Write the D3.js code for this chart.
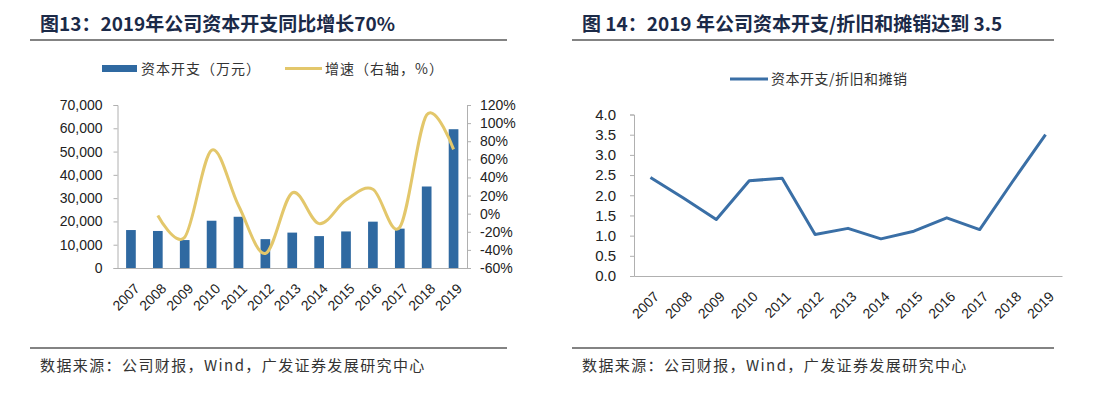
<!DOCTYPE html>
<html>
<head>
<meta charset="utf-8">
<script src="https://cdn.jsdelivr.net/npm/d3@7"></script>
<style>
  html, body { margin: 0; padding: 0; background: #fff; }
  svg text { font-family: "Liberation Sans", Arial, "Noto Sans CJK SC", sans-serif; }
  .cjk { font-family: "Noto Sans CJK SC", sans-serif; }
</style>
</head>
<body>
<div id="chart"></div>
<script>
// data
const years = ['2007','2008','2009','2010','2011','2012','2013','2014','2015','2016','2017','2018','2019'];
const capex = [16300, 15900, 12000, 20300, 22000, 12400, 15200, 13700, 15700, 19900, 16900, 35000, 59600];
const growth = [null, -2, -26, 70, 9, -44, 23, -11, 15, 27, -15, 109, 71];
const capexToDa = [2.44, 1.93, 1.40, 2.36, 2.42, 1.03, 1.18, 0.92, 1.11, 1.44, 1.15, 2.34, 3.50];
const leftTicks = [0, 10000, 20000, 30000, 40000, 50000, 60000, 70000];
const pctTicks = [-60, -40, -20, 0, 20, 40, 60, 80, 100, 120];
const ratioTicks = [0, 0.5, 1, 1.5, 2, 2.5, 3, 3.5, 4];

const W = 1114, H = 396;
const titleColor = '#1b2a48', ruleColor = '#5a5a5a', axisColor = '#b0b0b0', textColor = '#222';
const barColor = '#2f69a1', growthColor = '#e3c76b', ratioColor = '#3a6fa6';

const svg = d3.select('#chart').append('svg')
  .attr('width', W).attr('height', H);

// 标题 + 横线 + 来源
function frame(x0, x1, tx, title) {
  svg.append('text').attr('class', 'cjk')
    .attr('x', tx).attr('y', 31)
    .attr('font-size', 19).attr('font-weight', 'bold')
    .attr('fill', titleColor).text(title);
  svg.append('line').attr('x1', x0).attr('x2', x1).attr('y1', 40).attr('y2', 40)
    .attr('stroke', ruleColor).attr('stroke-width', 1.5);
  svg.append('line').attr('x1', x0).attr('x2', x1).attr('y1', 348).attr('y2', 348)
    .attr('stroke', ruleColor).attr('stroke-width', 1.5);
  svg.append('text').attr('class', 'cjk')
    .attr('x', tx).attr('y', 371)
    .attr('font-size', 15).attr('letter-spacing', 1.4)
    .attr('fill', '#333').text('数据来源：公司财报，Wind，广发证券发展研究中心');
}
frame(30, 507, 40, '图13：2019年公司资本开支同比增长70%');
frame(572, 1054, 582, '图 14：2019 年公司资本开支/折旧和摊销达到 3.5');

function styleAxis(g) {
  g.select('.domain').attr('stroke', axisColor);
  g.selectAll('.tick line').attr('stroke', axisColor);
  g.selectAll('.tick text').attr('fill', textColor);
}

// 斜45度的年份标签，右上角对齐刻度
function rotateLabels(g, size) {
  g.selectAll('.tick text')
    .attr('font-size', size)
    .attr('text-anchor', 'end')
    .attr('x', 0).attr('y', 22)
    .attr('dx', -8.5).attr('dy', 0)
    .attr('transform', 'rotate(-45)');
}

// ---------- 左图：资本开支 + 增速 ----------
{
  const x = d3.scaleBand().domain(years).range([117.5, 467]);
  const y = d3.scaleLinear().domain([0, 70000]).range([268, 105]);
  const y2 = d3.scaleLinear().domain([-60, 120]).range([268, 105]);
  const g = svg.append('g');

  const bw = x.bandwidth() * 0.36;
  g.append('g').selectAll('rect').data(years).join('rect')
    .attr('x', (d) => x(d) + x.bandwidth() / 2 - bw / 2)
    .attr('y', (d, i) => y(capex[i]))
    .attr('width', bw)
    .attr('height', (d, i) => y(0) - y(capex[i]))
    .attr('fill', barColor);

  const line = d3.line()
    .defined((d) => d.v !== null)
    .x((d) => x(d.k) + x.bandwidth() / 2)
    .y((d) => y2(d.v))
    .curve(d3.curveCardinal.tension(0));
  g.append('path')
    .datum(years.map((k, i) => ({k, v: growth[i]})).filter((d) => d.v !== null))
    .attr('d', line)
    .attr('fill', 'none').attr('stroke', growthColor).attr('stroke-width', 3);

  const ax = g.append('g').attr('transform', 'translate(0,268)')
    .call(d3.axisBottom(x).tickSize(0).tickPadding(0));
  styleAxis(ax); rotateLabels(ax, 14);

  const ay = g.append('g').attr('transform', 'translate(117.5,0)')
    .call(d3.axisLeft(y).tickValues(leftTicks).tickSize(4).tickPadding(11).tickFormat(d3.format(',')));
  styleAxis(ay); ay.selectAll('.tick text').attr('font-size', 14);

  const ay2 = g.append('g').attr('transform', 'translate(467,0)')
    .call(d3.axisRight(y2).tickValues(pctTicks).tickSize(4).tickPadding(9).tickFormat((d) => d + '%'));
  styleAxis(ay2); ay2.selectAll('.tick text').attr('font-size', 14);

  // legend
  const lg = g.append('g');
  lg.append('rect').attr('x', 102).attr('y', 65).attr('width', 35).attr('height', 7).attr('fill', barColor);
  lg.append('text').attr('class', 'cjk').attr('x', 141).attr('y', 73.5)
    .attr('font-size', 14).attr('letter-spacing', 1).attr('fill', '#333').text('资本开支（万元）');
  lg.append('line').attr('x1', 285).attr('x2', 322).attr('y1', 68.5).attr('y2', 68.5)
    .attr('stroke', growthColor).attr('stroke-width', 3);
  lg.append('text').attr('class', 'cjk').attr('x', 325).attr('y', 73.5)
    .attr('font-size', 14).attr('letter-spacing', 1).attr('fill', '#333').text('增速（右轴，%）');
}

// ---------- 右图：资本开支/折旧和摊销 ----------
{
  const x = d3.scaleBand().domain(years).range([634, 1062]);
  const y = d3.scaleLinear().domain([0, 4]).range([276, 114.5]);
  const g = svg.append('g');

  const line = d3.line()
    .x((d, i) => x(years[i]) + x.bandwidth() / 2)
    .y((d) => y(d));
  g.append('path').datum(capexToDa).attr('d', line)
    .attr('fill', 'none').attr('stroke', ratioColor).attr('stroke-width', 3)
    .attr('stroke-linejoin', 'round');

  const ax = g.append('g').attr('transform', 'translate(0,276)')
    .call(d3.axisBottom(x).tickSize(0).tickPadding(0));
  styleAxis(ax); rotateLabels(ax, 14);

  const ay = g.append('g').attr('transform', 'translate(634,0)')
    .call(d3.axisLeft(y).tickValues(ratioTicks).tickSize(4).tickPadding(14).tickFormat(d3.format('.1f')));
  styleAxis(ay); ay.selectAll('.tick text').attr('font-size', 15);

  const lg = g.append('g');
  lg.append('line').attr('x1', 730).attr('x2', 768).attr('y1', 79).attr('y2', 79)
    .attr('stroke', ratioColor).attr('stroke-width', 3);
  lg.append('text').attr('class', 'cjk').attr('x', 771).attr('y', 84)
    .attr('font-size', 14).attr('letter-spacing', 0.5).attr('fill', '#333').text('资本开支/折旧和摊销');
}
</script>
</body>
</html>
